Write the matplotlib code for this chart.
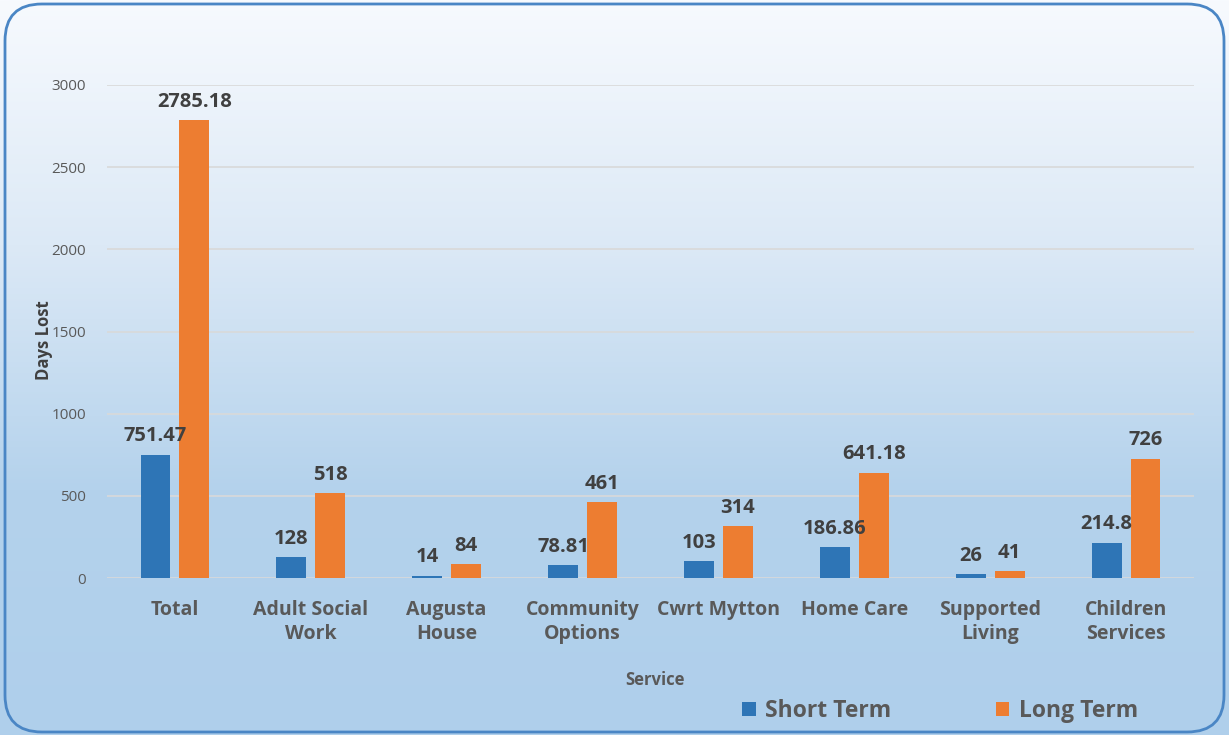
import numpy as np
import matplotlib
matplotlib.use("Agg")
import matplotlib.pyplot as plt
from matplotlib.patches import FancyBboxPatch
from matplotlib.colors import LinearSegmentedColormap

categories = ["Total", "Adult Social\nWork", "Augusta\nHouse", "Community\nOptions",
              "Cwrt Mytton", "Home Care", "Supported\nLiving", "Children\nServices"]
short_term = [751.47, 128, 14, 78.81, 103, 186.86, 26, 214.8]
long_term = [2785.18, 518, 84, 461, 314, 641.18, 41, 726]
short_labels = ["751.47", "128", "14", "78.81", "103", "186.86", "26", "214.8"]
long_labels = ["2785.18", "518", "84", "461", "314", "641.18", "41", "726"]

plt.rcParams['font.family'] = ['Open Sans', 'DejaVu Sans']

fig = plt.figure(figsize=(12.29, 7.35), dpi=100)

# background gradient
bg = fig.add_axes([0, 0, 1, 1], zorder=-10)
cmap = LinearSegmentedColormap.from_list("g", ["#f7fafe", "#dce9f6", "#b4d2ec", "#afcfeb"])
grad = np.linspace(0, 1, 256).reshape(-1, 1)
bg.imshow(grad, aspect='auto', cmap=cmap, extent=[0, 1, 0, 1], origin='upper')
bg.set_xlim(0, 1); bg.set_ylim(0, 1)
bg.axis('off')
frame = FancyBboxPatch((5/1229, 3/735), 1219/1229, 728/735,
                       boxstyle="round,pad=0,rounding_size=0.03",
                       transform=bg.transAxes, fill=False, edgecolor="#4a86c5",
                       linewidth=2, mutation_aspect=1229/735)
bg.add_patch(frame)

ax = fig.add_axes([107/1229, 1 - 578/735, 1087/1229, (578 - 85)/735])
ax.set_facecolor('none')
x = np.arange(len(categories))
w = 0.22
off = 0.143
b1 = ax.bar(x - off, short_term, w, color="#2e75b6", label="Short Term", zorder=3)
b2 = ax.bar(x + off, long_term, w, color="#ed7d31", label="Long Term", zorder=3)

for rect, lab in zip(b1, short_labels):
    ax.text(rect.get_x() + rect.get_width() / 2, rect.get_height() + 50, lab,
            ha='center', va='bottom', fontsize=14.5, fontweight='bold', color='#404040')
for rect, lab in zip(b2, long_labels):
    ax.text(rect.get_x() + rect.get_width() / 2, rect.get_height() + 50, lab,
            ha='center', va='bottom', fontsize=14.5, fontweight='bold', color='#404040')

ax.set_xlim(-0.5, len(categories) - 0.5)
ax.set_ylim(0, 3000)
ax.set_yticks([0, 500, 1000, 1500, 2000, 2500, 3000])
ax.yaxis.grid(True, color='#d9d9d9', linewidth=1.2, zorder=0)
ax.set_axisbelow(True)
for s in ax.spines.values():
    s.set_visible(False)
ax.tick_params(axis='both', length=0)
ax.tick_params(axis='y', labelsize=11, labelcolor='#595959', pad=15)
ax.set_xticks(x)
ax.set_xticklabels(categories, fontsize=14, fontweight='bold', color='#595959',
                   linespacing=1.25)
ax.tick_params(axis='x', pad=16)

fig.text(44/1229, 1 - 340/735, "Days Lost", rotation=90, ha='center', va='center',
         fontsize=12, fontweight='bold', color='#404040')
fig.text(655/1229, 1 - 680/735, "Service", ha='center', va='center',
         fontsize=12, fontweight='bold', color='#595959')

leg = fig.legend(handles=[b1, b2], labels=["Short Term", "Long Term"],
                 loc='center', bbox_to_anchor=(940/1229, 1 - 711/735), ncol=2,
                 frameon=False, fontsize=16.5, handlelength=0.6, handleheight=0.6,
                 columnspacing=4.55, handletextpad=0.4)
for t in leg.get_texts():
    t.set_color('#595959')
    t.set_fontweight('bold')

fig.savefig("out.png", dpi=100)
